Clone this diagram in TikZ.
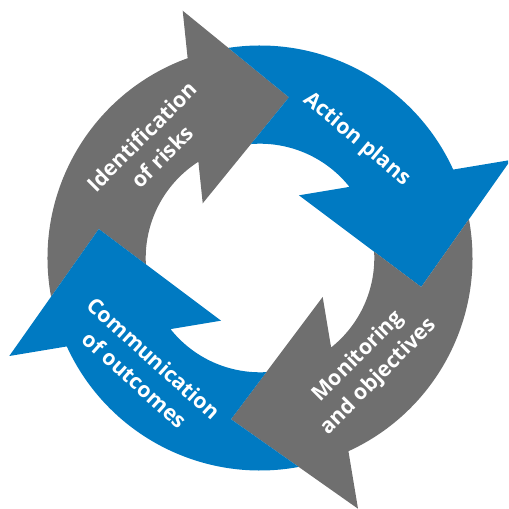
\documentclass[tikz,border=0pt]{standalone}
\usepackage{fontspec}
\newfontfamily\cyclefont{Open Sans}
\definecolor{cyclegray}{RGB}{111,111,111}
\definecolor{cycleblue}{RGB}{0,122,194}
% ring radii and radius of the arrow tips
\newcommand\ringout{212.5}
\newcommand\ringin{114.3}
\newcommand\tipr{163.8}
\begin{document}
\begin{tikzpicture}[x=0.75pt,y=0.75pt,
  grayarrow/.style={fill=cyclegray},
  bluearrow/.style={fill=cycleblue},
  steptext/.style={text=white, font=\cyclefont\bfseries\fontsize{16}{21.5}\selectfont,
    align=center, inner sep=0pt}]
\clip (-260,-251) rectangle (248,258);
% each arrow: outer arc, head, inner arc, tail notch shaped by the previous head
% Identification of risks
\fill[grayarrow] (190.5:\ringout) arc[start angle=190.5, end angle=109.91, radius=\ringout]
  -- (107.36:259.1) -- (79.77:163.3) -- (136.33:79.2) -- (122.62:\ringin)
  arc[start angle=122.62, end angle=183.17, radius=\ringin] -- (169.8:\tipr) -- cycle;
% Action plans
\fill[bluearrow] (98.57:\ringout) arc[start angle=98.57, end angle=24.59, radius=\ringout]
  -- (21.35:269.2) -- (-10.2:\tipr) -- (58.12:73.8) -- (38.48:\ringin)
  arc[start angle=38.48, end angle=94.55, radius=\ringin] -- (79.77:163.3) -- cycle;
% Monitoring and objectives
\fill[grayarrow] (10.5:\ringout) arc[start angle=10.5, end angle=-65.41, radius=\ringout]
  -- (-68.65:269.2) -- (-100.2:\tipr) -- (-31.88:73.8) -- (-51.52:\ringin)
  arc[start angle=-51.52, end angle=3.17, radius=\ringin] -- (-10.2:\tipr) -- cycle;
% Communication of outcomes
\fill[bluearrow] (280.5:\ringout) arc[start angle=280.5, end angle=204.59, radius=\ringout]
  -- (201.35:269.2) -- (169.8:\tipr) -- (238.12:73.8) -- (218.48:\ringin)
  arc[start angle=218.48, end angle=273.17, radius=\ringin] -- (259.8:\tipr) -- cycle;
% labels
\node[steptext, rotate=45] (ident) at (-108,111.5) {Identification\\of risks};
\node[steptext, rotate=-40] (action) at (96.5,118.5) {Action plans};
\node[steptext, rotate=45] (monitor) at (108.7,-108.7) {Monitoring\\and objectives};
\node[steptext, rotate=-42] (comm) at (-115.5,-111) {Communication\\of outcomes};
\end{tikzpicture}
\end{document}
